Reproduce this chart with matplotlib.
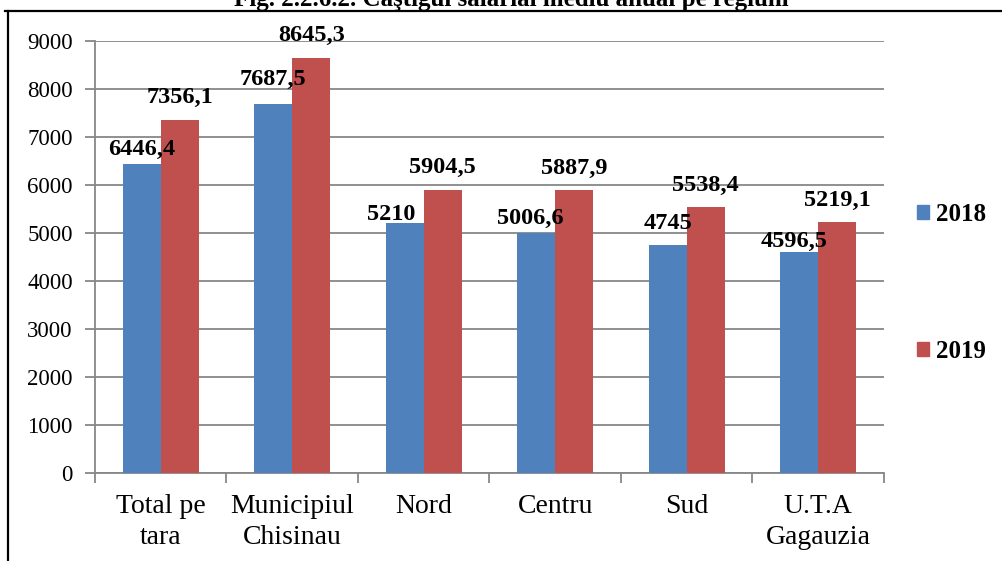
import numpy as np
import matplotlib
matplotlib.use("Agg")
import matplotlib.pyplot as plt
from matplotlib.patches import Patch
from matplotlib.lines import Line2D

# Câştigul salarial mediu anual pe regiuni, 2018 vs 2019
regions = ["Total pe\ntara", "Municipiul\nChisinau", "Nord", "Centru", "Sud", "U.T.A\nGagauzia"]
years = ["2018", "2019"]
val_2018 = [6446.4, 7687.5, 5210, 5006.6, 4745, 4596.5]
val_2019 = [7356.1, 8645.3, 5904.5, 5887.9, 5538.4, 5219.1]
yticks = [0, 1000, 2000, 3000, 4000, 5000, 6000, 7000, 8000, 9000]

# label nudges (points) to follow the hand-placed labels of the original
dx_2018 = [0, 0, -10, -4, 0, -4]
dy_2018 = [6, 14, 2, 6, 12, 4]

blue = "#4F81BD"
red = "#C0504D"
grid_col = "#878787"

plt.rcParams["font.family"] = ["Liberation Serif", "DejaVu Serif"]

fig = plt.figure(figsize=(10.03, 5.61), dpi=100)
W, H = 1003, 561
ax = fig.add_axes([95 / W, 1 - 473 / H, (884 - 95) / W, (473 - 41) / H])

x = np.arange(len(regions))
w = 0.289
b1 = ax.bar(x - w / 2, val_2018, w, color=blue, zorder=3)
b2 = ax.bar(x + w / 2, val_2019, w, color=red, zorder=3)

def fmt(v):
    s = ("%.1f" % v).rstrip("0").rstrip(".")
    return s.replace(".", ",")

for i, v in enumerate(val_2018):
    ax.annotate(fmt(v), (x[i] - w / 2, v), xytext=(dx_2018[i], dy_2018[i]),
                textcoords="offset points", ha="center", va="baseline",
                fontsize=17.5, fontweight="bold", zorder=5)
for i, v in enumerate(val_2019):
    ax.annotate(fmt(v), (x[i] + w / 2, v), xytext=(0, 12),
                textcoords="offset points", ha="center", va="baseline",
                fontsize=17.5, fontweight="bold", zorder=5)

ax.set_xlim(-0.5, len(regions) - 0.5)
ax.set_ylim(0, 9000)
ax.set_yticks(yticks)
ax.set_yticklabels([str(t) for t in yticks], fontsize=16.5)
ax.yaxis.grid(True, color=grid_col, linewidth=1.3, zorder=0)

ax.set_xticks(x)
ax.set_xticklabels(regions, fontsize=20, linespacing=1.35)
ax.set_xticks(np.arange(len(regions) + 1) - 0.5, minor=True)
ax.tick_params(axis="x", which="major", length=0, pad=15)
ax.tick_params(axis="x", which="minor", length=7, width=1.3, color=grid_col)
ax.tick_params(axis="y", length=7, width=1.3, color=grid_col, pad=9)

for s in ["top", "right"]:
    ax.spines[s].set_visible(False)
for s in ["left", "bottom"]:
    ax.spines[s].set_color(grid_col)
    ax.spines[s].set_linewidth(1.3)

handles = [Patch(color=blue, label=years[0]), Patch(color=red, label=years[1])]
fig.legend(handles=handles, loc="center left", bbox_to_anchor=(917 / W, 1 - 283 / H),
           frameon=False, borderpad=0, borderaxespad=0, handlelength=0.5,
           handleheight=0.5, handletextpad=0.25, labelspacing=4.55,
           prop={"size": 18, "weight": "bold"})

# page frame and clipped caption above the chart
fig.add_artist(Line2D([5 / W, 1], [1 - 10.5 / H] * 2, color="black", lw=1.6))
fig.add_artist(Line2D([8 / W] * 2, [0, 1 - 10.5 / H], color="black", lw=1.6))
fig.text(511 / W, 1 - 6 / H, "Fig. 2.2.6.2. Câştigul salarial mediu anual pe regiuni",
         ha="center", va="baseline", fontsize=18, fontweight="bold")

fig.savefig("out.png", dpi=100)
